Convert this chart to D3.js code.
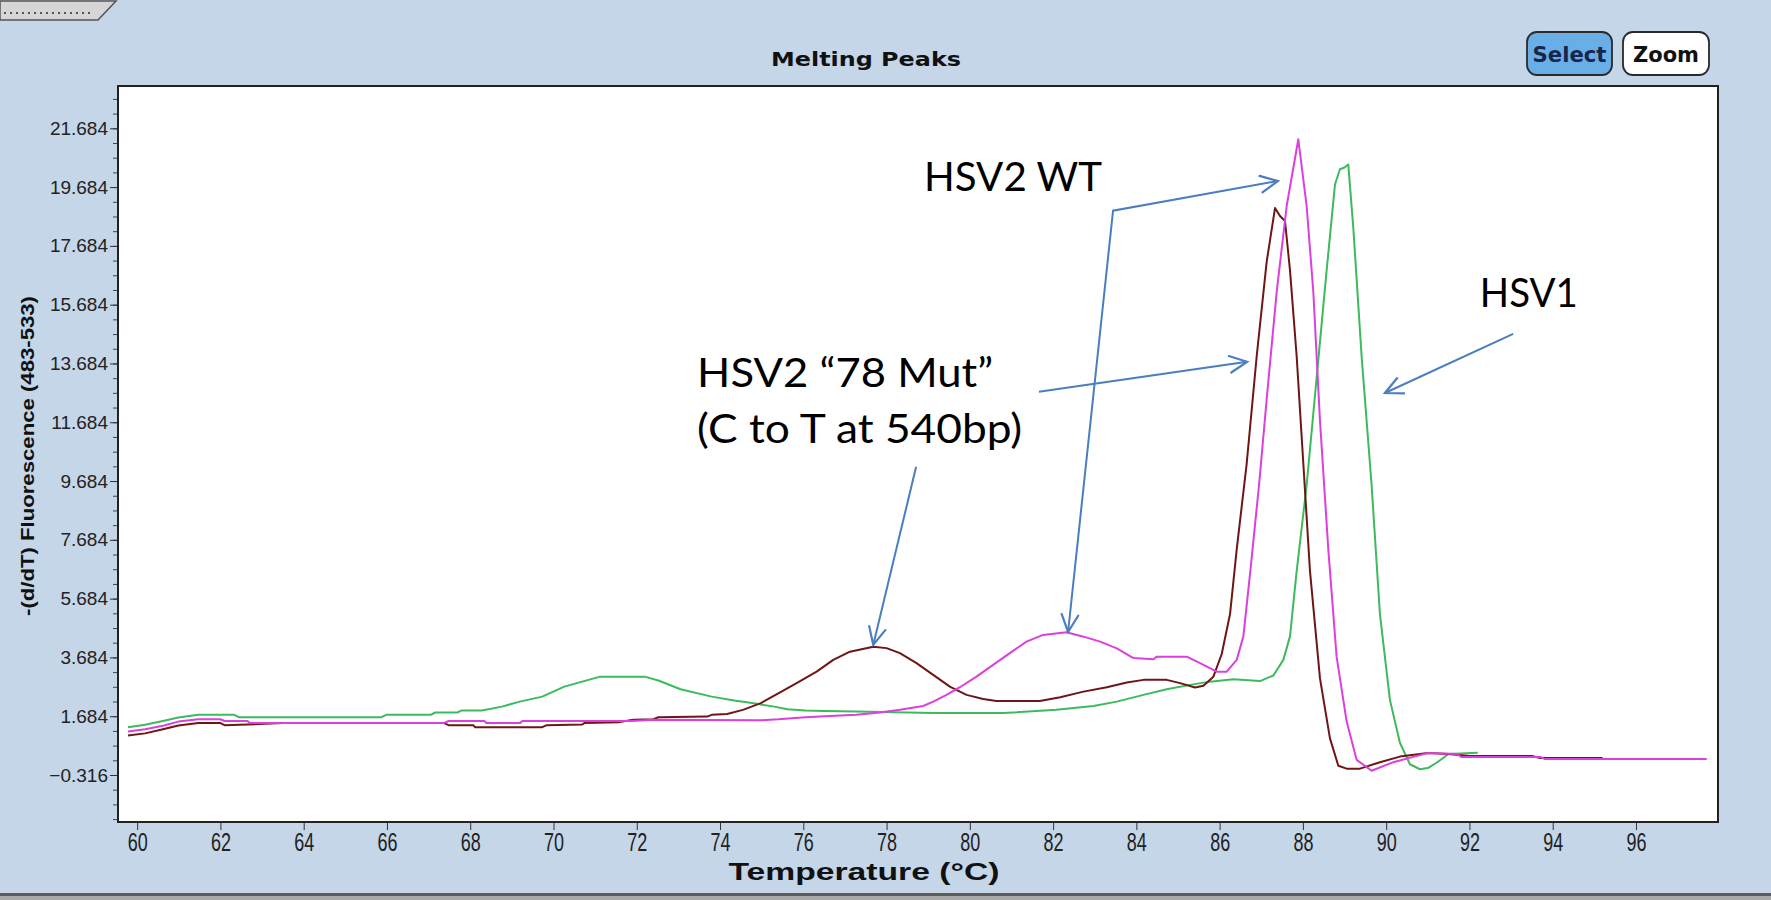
<!DOCTYPE html>
<html><head><meta charset="utf-8">
<script src="https://cdn.jsdelivr.net/npm/d3@7"></script>
<style>body{margin:0;background:#c4d6e8;overflow:hidden} svg{display:block}</style>
</head><body><svg id="c" width="1771" height="900"></svg>
<script>
// ---- data (temperature °C, -(d/dT) fluorescence) ----
const hsv1 = [[59.78,1.31],[60.19,1.39],[60.62,1.52],[60.99,1.64],[61.47,1.73],[62.33,1.73],[62.44,1.65],[65.87,1.65],[65.98,1.73],[67.05,1.73],[67.16,1.81],[67.69,1.81],[67.8,1.88],[68.28,1.88],[68.76,2.01],[69.19,2.18],[69.73,2.35],[70.26,2.69],[70.69,2.86],[71.12,3.03],[72.19,3.03],[72.52,2.90],[73.05,2.60],[73.8,2.35],[74.34,2.22],[74.77,2.13],[75.3,2.01],[75.62,1.92],[76.05,1.88],[76.5,1.86],[77.28,1.84],[79.12,1.79],[80.8,1.79],[82.08,1.90],[82.97,2.03],[83.53,2.18],[84.17,2.41],[84.73,2.60],[85.29,2.75],[85.77,2.86],[86.33,2.94],[86.97,2.88],[87.29,3.07],[87.53,3.6],[87.69,4.4],[87.85,6.62],[88.09,9.55],[88.33,13.2],[88.57,16.85],[88.77,19.77],[88.89,20.29],[89.0,20.35],[89.09,20.45],[89.21,18.31],[89.41,13.93],[89.65,9.55],[89.85,5.16],[90.09,2.24],[90.33,0.78],[90.57,0.05],[90.81,-0.12],[91.0,-0.08],[91.21,0.1],[91.5,0.40],[92.2,0.44]];
const hsv2wt = [[59.78,1.16],[60.19,1.24],[60.62,1.36],[60.99,1.50],[61.47,1.58],[62.0,1.58],[62.1,1.52],[62.65,1.52],[62.7,1.45],[67.37,1.45],[67.48,1.52],[68.34,1.52],[68.39,1.45],[69.2,1.45],[69.25,1.52],[71.87,1.52],[72.4,1.56],[75.0,1.55],[75.4,1.58],[76.05,1.65],[76.64,1.69],[77.28,1.73],[77.84,1.81],[78.32,1.90],[78.88,2.03],[79.12,2.18],[79.44,2.41],[79.76,2.67],[80.16,3.03],[80.56,3.43],[80.96,3.83],[81.36,4.22],[81.76,4.45],[82.32,4.54],[82.73,4.39],[83.13,4.22],[83.53,3.99],[83.93,3.66],[84.41,3.62],[84.49,3.71],[85.21,3.71],[85.53,3.49],[85.93,3.20],[86.17,3.20],[86.41,3.6],[86.57,4.4],[86.75,6.8],[86.95,9.6],[87.13,12.47],[87.37,16.12],[87.61,19.04],[87.89,21.31],[88.09,19.04],[88.25,16.12],[88.41,11.74],[88.61,7.36],[88.81,3.70],[89.05,1.51],[89.29,0.20],[89.65,-0.17],[90.17,0.12],[90.65,0.30],[91.0,0.43],[91.7,0.40],[91.8,0.30],[93.7,0.30],[93.8,0.23],[97.7,0.23]];
const hsv2mut = [[59.78,1.03],[60.19,1.10],[60.62,1.24],[60.99,1.37],[61.47,1.45],[62.0,1.45],[62.1,1.38],[62.65,1.40],[63.5,1.45],[67.37,1.45],[67.48,1.38],[68.07,1.38],[68.12,1.31],[69.73,1.31],[69.84,1.38],[70.69,1.40],[70.74,1.45],[71.55,1.48],[71.92,1.56],[72.4,1.58],[72.52,1.65],[73.69,1.67],[73.8,1.73],[74.17,1.76],[74.55,1.9],[74.98,2.13],[75.41,2.47],[75.84,2.81],[76.32,3.2],[76.72,3.6],[77.12,3.88],[77.68,4.05],[78.0,4.0],[78.32,3.83],[78.72,3.49],[79.12,3.09],[79.52,2.69],[79.92,2.41],[80.32,2.27],[80.64,2.2],[81.68,2.2],[82.17,2.33],[82.73,2.52],[83.29,2.67],[83.77,2.83],[84.17,2.92],[84.73,2.92],[85.05,2.81],[85.41,2.66],[85.61,2.72],[85.85,3.03],[86.05,3.8],[86.25,5.16],[86.41,7.36],[86.65,10.28],[86.89,13.93],[87.13,17.15],[87.33,18.97],[87.45,18.7],[87.57,18.53],[87.69,16.85],[87.85,13.93],[88.01,10.28],[88.17,6.62],[88.41,2.97],[88.65,0.93],[88.85,0.0],[89.05,-0.1],[89.37,-0.1],[89.85,0.12],[90.33,0.31],[91.0,0.43],[91.5,0.40],[92.0,0.33],[93.5,0.33],[93.7,0.26],[95.2,0.26]];

const xTicks = [60,62,64,66,68,70,72,74,76,78,80,82,84,86,88,90,92,94,96];
const yTicks = [-0.316,1.684,3.684,5.684,7.684,9.684,11.684,13.684,15.684,17.684,19.684,21.684];
const yMinorStep = 0.5;

const seriesNames = ["HSV1","HSV2 WT","HSV2 78 Mut"];
const seriesColors = ["#3cba5c","#dc40dc","#6e1616"];

// annotations: text lines [label, T, V, width] and arrows (polyline in data coords)
const labelTexts = [["HSV2 WT",78.90,19.55,178],["HSV2 \u201C78 Mut\u201D",73.45,12.89,296],["(C to T at 540bp)",73.45,10.98,325],["HSV1",92.25,15.59,98]];
const arrowPaths = [
  {pts:[[82.36,4.55],[83.44,18.88],[87.40,19.89]], startHead:true, endHead:true},
  {pts:[[81.66,12.72],[86.66,13.74]], startHead:false, endHead:true},
  {pts:[[78.71,10.17],[77.68,4.11]], startHead:false, endHead:true},
  {pts:[[93.05,14.69],[89.97,12.68]], startHead:false, endHead:true}
];

// ---- layout ----
const svg = d3.select("#c");
const L = 118, R = 1718, T = 86, B = 822;
const x = d3.scaleLinear().domain([59.54, 97.97]).range([L, R]);
const y = d3.scaleLinear().domain([-1.915, 23.123]).range([B, T]);

svg.append("rect").attr("width",1771).attr("height",900).attr("fill","#c4d6e8");

// top-left tab
svg.append("path").attr("d","M0,1 L116,1 L98,20 L0,20 Z").attr("fill","#d6d6d6").attr("stroke","#555").attr("stroke-width",1.5);
svg.append("line").attr("x1",4).attr("x2",92).attr("y1",13).attr("y2",13)
  .attr("stroke","#555").attr("stroke-width",2).attr("stroke-dasharray","2,4");

// bottom bar
svg.append("rect").attr("x",0).attr("y",893).attr("width",1771).attr("height",3).attr("fill","#5c5c5c");
svg.append("rect").attr("x",0).attr("y",896).attr("width",1771).attr("height",4).attr("fill","#a9a9a9");

// title
svg.append("text").attr("x",866).attr("y",66).attr("text-anchor","middle")
  .attr("font-family","'DejaVu Sans', Verdana, sans-serif").attr("font-weight","bold").attr("font-size",19)
  .attr("textLength",190).attr("lengthAdjust","spacingAndGlyphs").attr("fill","#111").text("Melting Peaks");

// buttons
const btn = svg.append("g");
btn.append("rect").attr("x",1527).attr("y",32).attr("width",85).attr("height",43).attr("rx",10)
  .attr("fill","#6aaee8").attr("stroke","#2a2a2a").attr("stroke-width",1.8);
btn.append("text").attr("x",1569.5).attr("y",62).attr("text-anchor","middle")
  .attr("font-family","'DejaVu Sans', Verdana, sans-serif").attr("font-weight","bold").attr("font-size",22)
  .attr("textLength",74).attr("lengthAdjust","spacingAndGlyphs").attr("fill","#17264a").text("Select");
btn.append("rect").attr("x",1623).attr("y",32).attr("width",86).attr("height",43).attr("rx",10)
  .attr("fill","#ffffff").attr("stroke","#2a2a2a").attr("stroke-width",1.8);
btn.append("text").attr("x",1666).attr("y",62).attr("text-anchor","middle")
  .attr("font-family","'DejaVu Sans', Verdana, sans-serif").attr("font-weight","bold").attr("font-size",22)
  .attr("textLength",66).attr("lengthAdjust","spacingAndGlyphs").attr("fill","#111").text("Zoom");

// plot area
svg.append("rect").attr("x",L).attr("y",T).attr("width",R-L).attr("height",B-T).attr("fill","#fff");

// y axis minor ticks
const minor = d3.range(-0.316 - 3*yMinorStep, 23.123, yMinorStep).filter(v => v >= -1.915 && v <= 23.123);
svg.append("g").attr("transform",`translate(${L},0)`)
  .call(d3.axisLeft(y).tickValues(minor).tickSize(5).tickFormat(""))
  .call(g => g.select(".domain").remove())
  .call(g => g.selectAll("line").attr("stroke","#444"));
// y axis major
svg.append("g").attr("transform",`translate(${L},0)`)
  .call(d3.axisLeft(y).tickValues(yTicks).tickSize(8).tickPadding(2).tickFormat(d3.format(".3f")))
  .call(g => g.select(".domain").remove())
  .call(g => g.selectAll("line").attr("stroke","#333"))
  .call(g => g.selectAll("text").attr("font-family","Liberation Sans, Arial, sans-serif").attr("font-size",19).attr("fill","#222"));

// x axis
svg.append("g").attr("transform",`translate(0,${B})`)
  .call(d3.axisBottom(x).tickValues(xTicks).tickSize(8).tickPadding(3).tickFormat(d3.format("d")))
  .call(g => g.select(".domain").remove())
  .call(g => g.selectAll("line").attr("stroke","#333"))
  .call(g => g.selectAll("text").attr("font-family","Liberation Sans, Arial, sans-serif").attr("font-size",25)
     .attr("fill","#222").attr("transform","scale(0.72,1)"));

// axis titles
svg.append("text").attr("transform","translate(34,456) rotate(-90)").attr("text-anchor","middle")
  .attr("font-family","Liberation Sans, Arial, sans-serif").attr("font-weight","bold").attr("font-size",18)
  .attr("textLength",320).attr("lengthAdjust","spacingAndGlyphs").attr("fill","#111")
  .text("-(d/dT) Fluorescence (483-533)");
svg.append("text").attr("x",864).attr("y",880).attr("text-anchor","middle")
  .attr("font-family","Liberation Sans, Arial, sans-serif").attr("font-weight","bold").attr("font-size",23)
  .attr("textLength",271).attr("lengthAdjust","spacingAndGlyphs").attr("fill","#111")
  .text("Temperature (\u00B0C)");

// curves
svg.append("clipPath").attr("id","clip").append("rect").attr("x",L).attr("y",T).attr("width",R-L).attr("height",B-T);
const line = d3.line().x(d => x(d[0])).y(d => y(d[1]));
const cg = svg.append("g").attr("clip-path","url(#clip)");
[[hsv1,0],[hsv2mut,2],[hsv2wt,1]].forEach(([s,ci]) => {
  cg.append("path").datum(s).attr("d",line).attr("fill","none").attr("stroke",seriesColors[ci])
    .attr("stroke-width",2).attr("stroke-linejoin","round");
});

// plot border
svg.append("rect").attr("x",L).attr("y",T).attr("width",R-L).attr("height",B-T)
  .attr("fill","none").attr("stroke","#222").attr("stroke-width",2);

// annotations
const ann = svg.append("g");
labelTexts.forEach(([t,tx,vy,w]) => {
  ann.append("text").attr("x",x(tx)).attr("y",y(vy))
    .attr("font-family","Lato, 'Open Sans', sans-serif").attr("font-size",41).attr("fill","#000")
    .attr("textLength",w).attr("lengthAdjust","spacingAndGlyphs").text(t);
});
const blue = "#4a7ebf";
function head(p, q) { // open arrowhead at p, pointing from q to p
  const ang = Math.atan2(p[1]-q[1], p[0]-q[0]);
  const len = 20, spread = 0.45;
  const a1 = [p[0] - len*Math.cos(ang - spread), p[1] - len*Math.sin(ang - spread)];
  const a2 = [p[0] - len*Math.cos(ang + spread), p[1] - len*Math.sin(ang + spread)];
  return `M${a1[0]},${a1[1]}L${p[0]},${p[1]}L${a2[0]},${a2[1]}`;
}
arrowPaths.forEach(a => {
  const pts = a.pts.map(d => [x(d[0]), y(d[1])]);
  ann.append("path").attr("d", d3.line()(pts)).attr("fill","none").attr("stroke",blue).attr("stroke-width",2);
  if (a.endHead) ann.append("path").attr("d", head(pts[pts.length-1], pts[pts.length-2]))
      .attr("fill","none").attr("stroke",blue).attr("stroke-width",2.2);
  if (a.startHead) ann.append("path").attr("d", head(pts[0], pts[1]))
      .attr("fill","none").attr("stroke",blue).attr("stroke-width",2.2);
});
</script>
</body></html>
